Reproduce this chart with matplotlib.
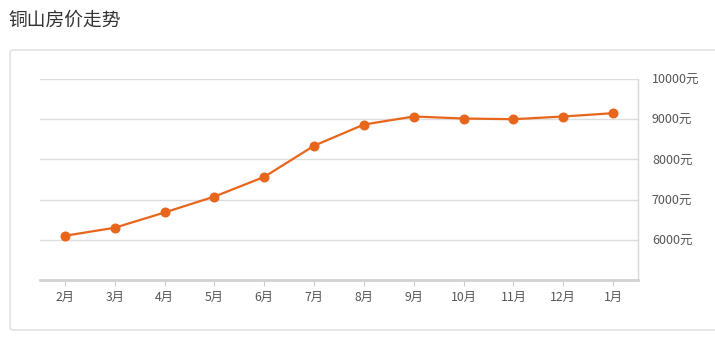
import matplotlib.pyplot as plt
from matplotlib.patches import FancyBboxPatch

plt.rcParams['font.family'] = ['Noto Sans CJK SC', 'DejaVu Sans']

# --- données ---
mois = ["2月", "3月", "4月", "5月", "6月", "7月", "8月", "9月", "10月", "11月", "12月", "1月"]
prix = [6100, 6300, 6680, 7075, 7565, 8340, 8867, 9067, 9017, 9000, 9067, 9150]
graduations = [6000, 7000, 8000, 9000, 10000]

fig = plt.figure(figsize=(7.15, 3.45), dpi=100)

# cadre arrondi autour du graphique
cadre = FancyBboxPatch((10 / 715, 1 - 330 / 345), 720 / 715, 280 / 345,
                       boxstyle="round,pad=0,rounding_size=0.006",
                       transform=fig.transFigure, facecolor="white",
                       edgecolor="#dcdcdc", linewidth=1.0, zorder=-1)
fig.patches.append(cadre)

fig.text(8 / 715, 1 - 20 / 345, "铜山房价走势", fontsize=13.5, color="#333333",
         va="center", ha="left")

ax = fig.add_axes([40 / 715, 1 - 280 / 345, 598 / 715, 201 / 345])
ax.set_facecolor("none")

x = list(range(len(mois)))
ax.plot(x, prix, color="#e8661c", linewidth=1.6, marker="o", markersize=6.2,
        markeredgecolor="#e8661c", zorder=3)

ax.set_xlim(-0.5, len(mois) - 0.5)
ax.set_ylim(5000, 10000)
ax.set_xticks(x)
ax.set_xticklabels(mois)
ax.set_yticks(graduations)
ax.set_yticklabels([f"{v}元" for v in graduations])

ax.yaxis.tick_right()
ax.grid(axis="y", color="#dddddd", linewidth=1.0)
ax.set_axisbelow(True)

for cote in ["left", "top"]:
    ax.spines[cote].set_visible(False)
ax.spines["right"].set_color("#d8d8d8")
ax.spines["right"].set_linewidth(1.0)
ax.spines["bottom"].set_color("#d2d2d2")
ax.spines["bottom"].set_linewidth(2.0)

ax.tick_params(axis="x", length=4, width=0.8, color="#cccccc", labelcolor="#555555",
               labelsize=8.8, pad=4)
ax.tick_params(axis="y", length=0, labelcolor="#555555", labelsize=9, pad=10)

plt.savefig("out.png", dpi=100)
